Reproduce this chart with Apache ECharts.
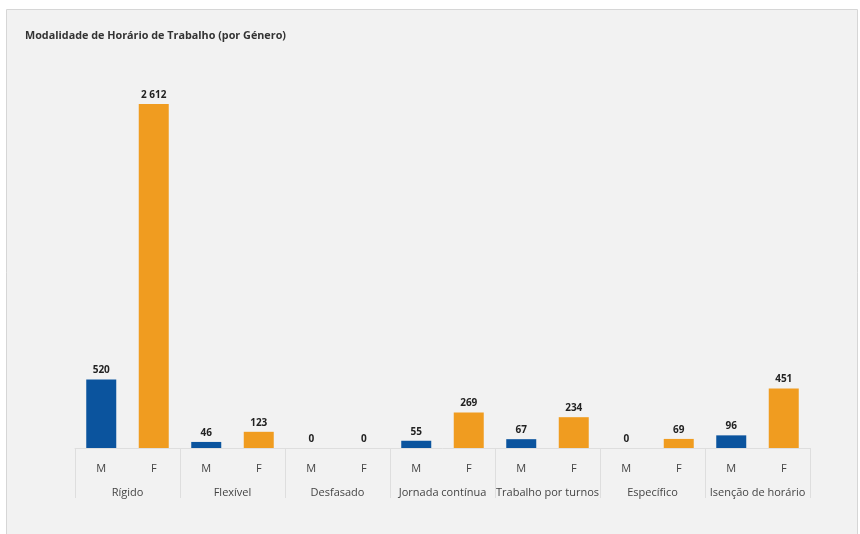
<!DOCTYPE html>
<html>
<head>
<meta charset="utf-8">
<script src="https://cdn.jsdelivr.net/npm/echarts@6/dist/echarts.min.js"></script>
<style>
html,body{margin:0;padding:0;background:#ffffff;}
#c{width:860px;height:534px;}
</style>
</head>
<body>
<div id="c"></div>
<script>
const groups = ['Rígido','Flexível','Desfasado','Jornada contínua','Trabalho por turnos','Específico','Isenção de horário'];
const genders = ['M','F'];
const valuesM = [520, 46, 0, 55, 67, 0, 96];
const valuesF = [2612, 123, 0, 269, 234, 69, 451];
const colorM = '#0b549e';
const colorF = '#f09c20';

const subCats = [];
const barData = [];
groups.forEach((g, i) => {
  subCats.push(genders[0], genders[1]);
  barData.push(valuesM[i], valuesF[i]);
});

const FONT = '"Open Sans", "Noto Sans", sans-serif';
const chart = echarts.init(document.getElementById('c'), null, {renderer: 'canvas'});
chart.setOption({
  animation: false,
  backgroundColor: '#ffffff',
  textStyle: {fontFamily: FONT},
  graphic: [{
    type: 'rect', z: -10, silent: true,
    shape: {x: 6.5, y: 9.5, width: 851, height: 540},
    style: {fill: '#f2f2f2', stroke: '#d6d6d6', lineWidth: 1}
  }],
  title: {
    text: 'Modalidade de Horário de Trabalho (por Género)',
    left: 20, top: 25,
    textStyle: {fontFamily: FONT, fontSize: 10.8, fontWeight: 'bold', color: '#333333'}
  },
  grid: {left: 75, right: 50, top: 53, bottom: 86},
  xAxis: [{
    type: 'category',
    data: subCats,
    axisLine: {show: true, lineStyle: {color: '#dedede', width: 1}},
    axisTick: {show: false},
    axisLabel: {color: '#444444', fontSize: 11, margin: 15, fontFamily: FONT, interval: 0}
  }, {
    type: 'category',
    data: groups,
    position: 'bottom',
    axisLine: {show: false},
    axisTick: {show: true, length: 50, interval: 0, alignWithLabel: false, lineStyle: {color: '#dedede', width: 1}},
    axisLabel: {color: '#444444', fontSize: 11, margin: 39, fontFamily: FONT, interval: 0}
  }],
  yAxis: {
    type: 'value', min: 0, max: 3000, show: false,
    splitLine: {show: false}
  },
  series: [{
    type: 'bar',
    xAxisIndex: 0,
    data: barData,
    barWidth: 30,
    itemStyle: {
      color: p => (p.dataIndex % 2 === 0 ? colorM : colorF)
    },
    label: {
      show: true, position: 'top', distance: 4,
      fontFamily: FONT, fontSize: 10, fontWeight: 'bold', color: '#222222',
      formatter: p => String(p.value).replace(/\B(?=(\d{3})+(?!\d))/g, ' ')
    }
  }]
});
</script>
</body>
</html>
